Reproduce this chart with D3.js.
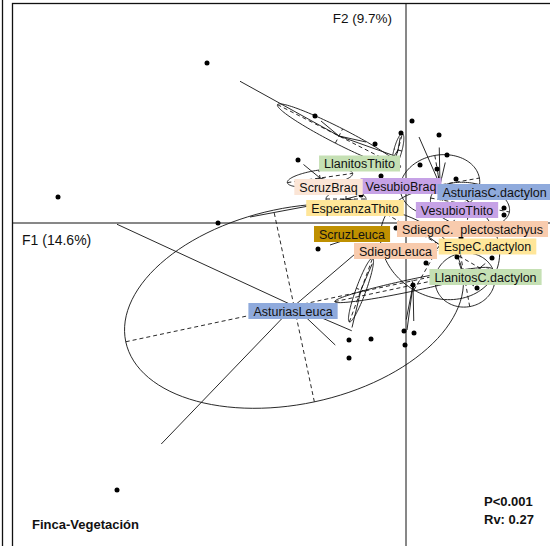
<!DOCTYPE html>
<html><head><meta charset="utf-8">
<script src="https://cdn.jsdelivr.net/npm/d3@7"></script>
<style>body{margin:0;background:#fff}svg{display:block}text{font-family:"Liberation Sans",Arial,sans-serif}</style>
</head><body><svg id="c" width="550" height="546"></svg>
<script>
// ---- data (factor scores, arbitrary units) ----
const classNames = ["AsturiasLeuca","LlanitosThito","VesubioBraq","ScruzBraq","EsperanzaThito","AsturiasC.dactylon","VesubioThito","ScruzLeuca","SdiegoLeuca","SdiegoC.  plectostachyus","EspeC.dactylon","LlanitosC.dactylon"];
const classColors = ["#8faadc","#c5e0b4","#c6a2e6","#fbe5d6","#ffe699","#8faadc","#c6a2e6","#bf9000","#f8cbad","#f8cbad","#ffe699","#c5e0b4"];
const centroidX = [-1.12,-0.67,-0.08,-0.86,-0.60,0.34,0.64,-0.40,-0.45,0.34,0.59,0.07];
const centroidY = [-0.83,0.87,0.73,0.45,0.24,0.38,0.18,-0.10,-0.67,-0.22,-0.57,-0.62];
const ellipseRx = [1.72,0.69,0.17,0.33,0.20,0.40,0.40,0.14,0.34,0.62,0.30,0.80];
const ellipseRy = [0.98,0.08,0.04,0.08,0.08,0.30,0.22,0.06,0.05,0.52,0.27,0.06];
const ellipseAngle = [12,-27,75,8,0,10,-10,5,70,-30,10,12];
const labelX = [-1.13,-0.465,-0.05,-0.775,-0.51,0.885,0.51,-0.54,-0.105,0.665,0.815,0.795];
const labelY = [-0.88,0.595,0.37,0.36,0.15,0.31,0.13,-0.11,-0.28,-0.06,-0.235,-0.54];
const pointX = [-3.48,-2.89,-0.35,-0.57,-0.31, -1.99,-0.91,-0.31,0.14, -0.25,-0.05,-0.12, -1.08,-0.61,-0.95, -1.88,-0.30,-0.45, 0.06,0.33,0.41,0.31, 0.98,0.98,0.50,0.30, -0.88,-0.10, -0.57,-0.30, 0.10,0.55,0.20, 0.71,0.86,0.51, -0.02,0.08,-0.01,0.07];
const pointY = [0.26,-2.67,-1.16,-1.35,-0.14, 1.60,1.07,0.79,0.58, 0.47,0.90,0.60, 0.63,0.38,0.40, 0.00,0.20,0.28, 1.02,0.88,0.68,0.54, 0.15,0.08,0.44,0.10, -0.26,-0.05, -1.17,-0.32, -0.05,-0.15,-0.40, -0.65,-0.35,-0.34, -1.08,-1.10,-1.22,-0.62];
const pointClass = [0,0,0,0,0, 1,1,1,1, 2,2,2, 3,3,3, 4,4,4, 5,5,5,5, 6,6,6,6, 7,7, 8,8, 9,9,9, 10,10,10, 11,11,11,11];
const axisTitles = ["F1 (14.6%)","F2 (9.7%)"];
const panelTitle = "Finca-Vegetación";
const statLines = ["P<0.001","Rv: 0.27"];

// ---- drawing ----
const svg = d3.select("#c");
const x = d3.scaleLinear().domain([-3.94,1.94]).range([12,600]);
const y = d3.scaleLinear().domain([2.20,-3.77]).range([3,600]);
const starFrac = 0.75;

svg.append("line").attr("x1",2.5).attr("x2",2.5).attr("y1",0).attr("y2",546).attr("stroke","#111").attr("stroke-width",1.3);
svg.append("rect").attr("x",x(-3.94)+0.5).attr("y",y(2.20)+0.5).attr("width",x(1.94)-x(-3.94)).attr("height",y(-3.77)-y(2.20))
  .attr("fill","none").attr("stroke","#111").attr("stroke-width",1.3);

svg.append("line").attr("x1",x(-3.94)).attr("x2",x(1.94)).attr("y1",y(0)).attr("y2",y(0)).attr("stroke","#111").attr("stroke-width",1);
svg.append("line").attr("x1",x(0)).attr("x2",x(0)).attr("y1",y(2.20)).attr("y2",y(-3.77)).attr("stroke","#111").attr("stroke-width",1);

const classes = classNames.map((n,i)=>({name:n,color:classColors[i],cx:centroidX[i],cy:centroidY[i],rx:ellipseRx[i],ry:ellipseRy[i],a:ellipseAngle[i]*Math.PI/180,lx:labelX[i],ly:labelY[i]}));
const pts = pointX.map((v,i)=>({x:v,y:pointY[i],c:pointClass[i]}));

const g = svg.append("g");
const ellLine = d3.line().curve(d3.curveLinearClosed);
classes.forEach(c=>{
  const ps = d3.range(0,120).map(k=>{
    const t = k/120*2*Math.PI;
    const X = c.cx + c.rx*Math.cos(t)*Math.cos(c.a) - c.ry*Math.sin(t)*Math.sin(c.a);
    const Y = c.cy + c.rx*Math.cos(t)*Math.sin(c.a) + c.ry*Math.sin(t)*Math.cos(c.a);
    return [x(X),y(Y)];
  });
  g.append("path").attr("d",ellLine(ps)).attr("fill","none").attr("stroke","#111").attr("stroke-width",0.9);
  [[c.rx,0],[0,c.ry]].forEach(([u,v])=>{
    const dx = u*Math.cos(c.a) - v*Math.sin(c.a), dy = u*Math.sin(c.a) + v*Math.cos(c.a);
    g.append("line").attr("x1",x(c.cx-dx)).attr("y1",y(c.cy-dy)).attr("x2",x(c.cx+dx)).attr("y2",y(c.cy+dy))
      .attr("stroke","#111").attr("stroke-width",0.9).attr("stroke-dasharray","4,3");
  });
});
pts.forEach(p=>{
  const c = classes[p.c];
  g.append("line").attr("x1",x(c.cx)).attr("y1",y(c.cy))
    .attr("x2",x(c.cx+starFrac*(p.x-c.cx))).attr("y2",y(c.cy+starFrac*(p.y-c.cy)))
    .attr("stroke","#111").attr("stroke-width",0.9);
});
g.selectAll("circle.p").data(pts).join("circle").attr("class","p")
  .attr("cx",d=>x(d.x)).attr("cy",d=>y(d.y)).attr("r",2.5).attr("fill","#000");

classes.forEach(c=>{
  const t = svg.append("text").attr("x",x(c.lx)).attr("y",y(c.ly)).attr("dy","0.36em")
    .attr("text-anchor","middle").attr("font-size",12.5).attr("fill","#111").style("white-space","pre").text(c.name);
  const bb = t.node().getBBox();
  svg.insert("rect","text").attr("x",bb.x-5).attr("y",y(c.ly)-8).attr("width",bb.width+10).attr("height",16).attr("fill",c.color);
});

svg.append("text").attr("x",x(-3.94)+10).attr("y",y(0)+22).attr("font-size",14).attr("fill","#111").text(axisTitles[0]);
svg.append("text").attr("x",x(0)-14).attr("y",y(2.20)+20).attr("text-anchor","end").attr("font-size",13.5).attr("fill","#111").text(axisTitles[1]);
svg.append("text").attr("x",32).attr("y",529).attr("font-size",13).attr("font-weight","bold").attr("fill","#111").text(panelTitle);
statLines.forEach((s,i)=>svg.append("text").attr("x",484).attr("y",506+i*18).attr("font-size",13).attr("font-weight","bold").attr("fill","#111").text(s));
</script></body></html>
